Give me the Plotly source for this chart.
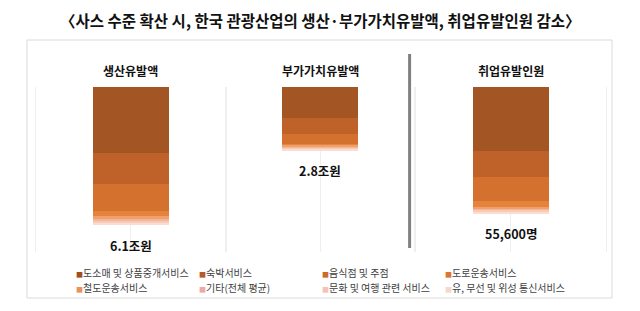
import plotly.graph_objects as go

# ---------------- data ----------------
panels = ["생산유발액", "부가가치유발액", "취업유발인원"]
totals_text = ["6.1조원", "2.8조원", "55,600명"]
series = ["도소매 및 상품중개서비스", "숙박서비스", "음식점 및 주점", "도로운송서비스",
          "철도운송서비스", "기타(전체 평균)", "문화 및 여행 관련 서비스", "유, 무선 및 위성 통신서비스"]
production = [2.92, 1.39, 1.19, 0.20, 0.13, 0.11, 0.09, 0.07]        # 조원
value_added = [1.37, 0.73, 0.42, 0.09, 0.06, 0.05, 0.04, 0.04]       # 조원
employment = [28400, 11500, 10600, 2650, 800, 700, 550, 400]         # 명
bar_colors = ["#A35524", "#BE622A", "#D5712E", "#E5833A", "#EFA06C", "#F3B89A", "#F6CAB6", "#F9DDD1"]
legend_colors = ["#9E4F22", "#B55A2A", "#C96A30", "#DA7634", "#E8925C", "#EFA9A0", "#F3C2B8", "#F6D6CF"]

W, H = 640, 311
def px(x): return x / W
def py(y): return 1 - y / H

FONT = "Noto Sans CJK KR"
fig = go.Figure()

data_by_panel = [production, value_added, employment]
axes = [("x", "y"), ("x2", "y2"), ("x3", "y3")]
for p, (vals, (xa, ya)) in enumerate(zip(data_by_panel, axes)):
    for i, name in enumerate(series):
        fig.add_trace(go.Bar(
            x=[panels[p]], y=[vals[i]], name=name, xaxis=xa, yaxis=ya,
            marker=dict(color=bar_colors[i], line=dict(width=0)),
            width=0.4, showlegend=False, hoverinfo="skip"))

# axes layout
x_domains = [(35.5, 226), (226, 414), (415.5, 606)]
y_dom = [py(252), py(87)]
ymax12 = 7.3
ymax3 = 72800
axis_common_x = dict(showticklabels=False, showgrid=True, gridcolor="#EFEFEF", gridwidth=1,
                     zeroline=False, showline=False, ticks="")
axis_common_y = dict(showticklabels=False, showgrid=False, zeroline=False, showline=True,
                     mirror=True, linecolor="#EFEFEF", linewidth=1, ticks="")
layout_axes = {}
for k, (d, ymax) in enumerate(zip(x_domains, [ymax12, ymax12, ymax3])):
    sx = "" if k == 0 else str(k + 1)
    layout_axes["xaxis" + sx] = dict(domain=[px(d[0]), px(d[1])], anchor="y" + sx,
                                     range=[-0.5, 0.5], **axis_common_x)
    layout_axes["yaxis" + sx] = dict(domain=y_dom, anchor="x" + sx, range=[ymax, 0],
                                     **axis_common_y)

fig.update_layout(**layout_axes)

annotations = []
# main title
annotations.append(dict(text="<b>〈사스 수준 확산 시, 한국 관광산업의 생산·부가가치유발액, 취업유발인원 감소〉</b>",
                        x=0.5, y=py(20), xref="paper", yref="paper", showarrow=False,
                        xanchor="center", yanchor="middle",
                        font=dict(family=FONT, size=15.5, color="#111111")))
# panel titles
for k, d in enumerate(x_domains):
    annotations.append(dict(text="<b>%s</b>" % panels[k], x=px((d[0] + d[1]) / 2), y=py(71),
                            xref="paper", yref="paper", showarrow=False,
                            xanchor="center", yanchor="middle",
                            font=dict(family=FONT, size=12, color="#111111")))
# value labels
for k, vals in enumerate(data_by_panel):
    sx = "" if k == 0 else str(k + 1)
    annotations.append(dict(text="<b>%s</b>" % totals_text[k], x=panels[k], y=sum(vals),
                            xref="x" + sx, yref="y" + sx, showarrow=False,
                            xanchor="center", yanchor="top", yshift=-9,
                            font=dict(family=FONT, size=12.5, color="#111111")))
# legend (manual, 4 columns x 2 rows)
col_x = [74, 197, 320, 443]
row_y = [272, 287.5]
for i, name in enumerate(series):
    r, c = divmod(i, 4)
    annotations.append(dict(
        text="<span style='color:%s;font-size:7px'>■</span>%s" % (legend_colors[i], name),
        x=px(col_x[c]), y=py(row_y[r]), xref="paper", yref="paper", showarrow=False,
        xanchor="left", yanchor="middle",
        font=dict(family=FONT, size=10, color="#404040")))

shapes = [
    dict(type="rect", xref="paper", yref="paper", x0=px(27), x1=px(612), y0=py(298), y1=py(40),
         line=dict(color="#DADADA", width=1), fillcolor="rgba(0,0,0,0)", layer="below"),
    dict(type="line", xref="paper", yref="paper", x0=px(409.6), x1=px(409.6), y0=py(248), y1=py(54),
         line=dict(color="#808080", width=3)),
]

fig.update_layout(width=W, height=H, margin=dict(l=0, r=0, t=0, b=0),
                  paper_bgcolor="white", plot_bgcolor="rgba(0,0,0,0)",
                  barmode="stack", bargap=0, showlegend=False,
                  annotations=annotations, shapes=shapes,
                  font=dict(family=FONT))

fig.write_html("out.html")
